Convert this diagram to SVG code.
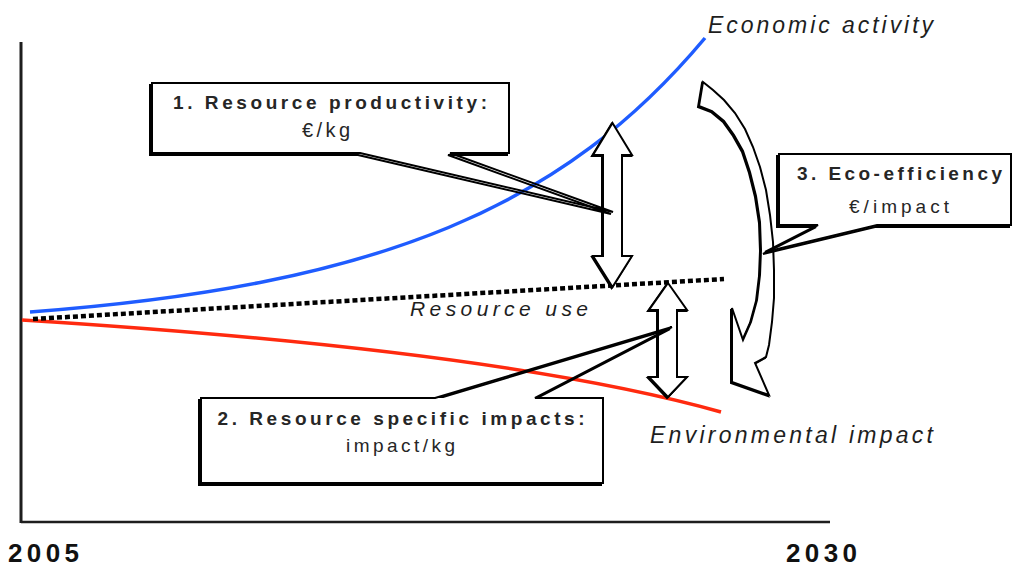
<svg xmlns="http://www.w3.org/2000/svg" width="1014" height="567" viewBox="0 0 1014 567">
  <style>
    .axis { stroke: #1e1e1e; fill: none; }
    .lbl { font-family: "Liberation Sans", Arial, sans-serif; font-style: italic; font-size: 23px; fill: #1e1e1e; }
    .bt { font-family: "Liberation Sans", Arial, sans-serif; font-weight: bold; font-size: 19px; fill: #262626; }
    .bt2 { font-family: "Liberation Sans", Arial, sans-serif; font-size: 19px; fill: #262626; }
    .yr { font-family: "Liberation Sans", Arial, sans-serif; font-weight: bold; font-size: 26px; fill: #111; }
    .outline { fill: none; stroke: #000; stroke-width: 2; stroke-linejoin: miter; }
    .shadow { fill: none; stroke: #000; stroke-width: 2; }
    .boxfill { fill: #fff; stroke: none; }
    .arrow { fill: #fff; stroke: #000; stroke-width: 2; stroke-linejoin: miter; }
  </style>
  <rect width="1014" height="567" fill="#fff"/>

  <g id="axes">
    <line class="axis" x1="21" y1="42" x2="21" y2="523" stroke-width="3"/>
    <line class="axis" x1="21" y1="522" x2="830" y2="522" stroke-width="2.5"/>
    <text class="yr" x="8" y="562" textLength="71" lengthAdjust="spacing">2005</text>
    <text class="yr" x="786" y="562" textLength="71" lengthAdjust="spacing">2030</text>
  </g>

  <g id="series">
    <path id="economic-activity" d="M30,312 C386,285 565,205 705,38" fill="none" stroke="#1f5cff" stroke-width="3.5"/>
    <path id="environmental-impact" d="M22,320 Q500,350 721,412" fill="none" stroke="#ff2a0f" stroke-width="3.5"/>
    <line id="resource-use" x1="33" y1="319" x2="724" y2="279" stroke="#000" stroke-width="4.5" stroke-dasharray="5 3"/>
  </g>

  <g id="connectors">
    <g id="arrow-productivity">
      <polygon class="arrow" transform="translate(-1,1)" points="612.5,123 632,155 622,155 622,256 632,256 612.5,287 593,256 603,256 603,155 593,155"/>
      <polygon class="arrow" points="612.5,123 632,155 622,155 622,256 632,256 612.5,287 593,256 603,256 603,155 593,155"/>
    </g>
    <g id="arrow-impacts">
      <polygon class="arrow" transform="translate(-1,1)" points="668,283 687,310 677,310 677,377 687,377 668,397 649,377 658,377 658,310 649,310"/>
      <polygon class="arrow" points="668,283 687,310 677,310 677,377 687,377 668,397 649,377 658,377 658,310 649,310"/>
    </g>
    <g id="arrow-eco-efficiency">
      <polygon class="arrow" transform="translate(-1,1)" stroke-linejoin="round" points="703,82 713,90 724,100 735,113 745,129 753,147 760,167 766,190 770,215 773,242 774,270 774,298 772,322 769,345 766,357 755,363 769,395 732,382 732,308 743,340 751,322 757,300 760,275 761,250 760,222 756,196 750,172 743,151 734,135 724,121 712,111 699,106"/>
      <polygon class="arrow" stroke-linejoin="round" points="703,82 713,90 724,100 735,113 745,129 753,147 760,167 766,190 770,215 773,242 774,270 774,298 772,322 769,345 766,357 755,363 769,395 732,382 732,308 743,340 751,322 757,300 760,275 761,250 760,222 756,196 750,172 743,151 734,135 724,121 712,111 699,106"/>
    </g>
  </g>

  <g id="box-1">
    <path class="shadow" transform="translate(-2,2)" d="M360,153 L613,212 L450,153 H509 V83 H152 V153 Z"/>
    <rect class="boxfill" x="152" y="83" width="357" height="70"/>
    <path class="outline" d="M360,153 L613,212 L450,153 H509 V83 H152 V153 Z"/>
    <text class="bt" x="173" y="109" textLength="314" lengthAdjust="spacing">1. Resource productivity:</text>
    <text class="bt2" x="302" y="137" style="font-size:20px" textLength="48" lengthAdjust="spacing">€/kg</text>
  </g>

  <g id="box-2">
    <path class="shadow" transform="translate(-2,2)" d="M435,398 L672,327 L535,398 H603 V483 H201 V398 Z"/>
    <rect class="boxfill" x="201" y="398" width="402" height="85"/>
    <path class="outline" d="M435,398 L672,327 L535,398 H603 V483 H201 V398 Z"/>
    <text class="bt" x="217.5" y="425" textLength="367" lengthAdjust="spacing">2. Resource specific impacts:</text>
    <text class="bt2" x="346" y="452" textLength="109" lengthAdjust="spacing">impact/kg</text>
  </g>

  <g id="box-3">
    <path class="shadow" transform="translate(-2,2)" d="M818,225 L765,252 L877,225 H1011 V154 H779 V225 Z"/>
    <rect class="boxfill" x="779" y="154" width="232" height="71"/>
    <path class="outline" d="M818,225 L765,252 L877,225 H1011 V154 H779 V225 Z"/>
    <text class="bt" x="797" y="180" textLength="205" lengthAdjust="spacing">3. Eco-efficiency</text>
    <text class="bt2" x="849" y="213" textLength="100" lengthAdjust="spacing">€/impact</text>
  </g>

  <g id="labels">
    <text class="lbl" x="708" y="33" textLength="225" lengthAdjust="spacing">Economic activity</text>
    <text class="lbl" x="410" y="316" style="font-size:21px" textLength="178" lengthAdjust="spacing">Resource use</text>
    <text class="lbl" x="650" y="443" textLength="283" lengthAdjust="spacing">Environmental impact</text>
  </g>
</svg>
